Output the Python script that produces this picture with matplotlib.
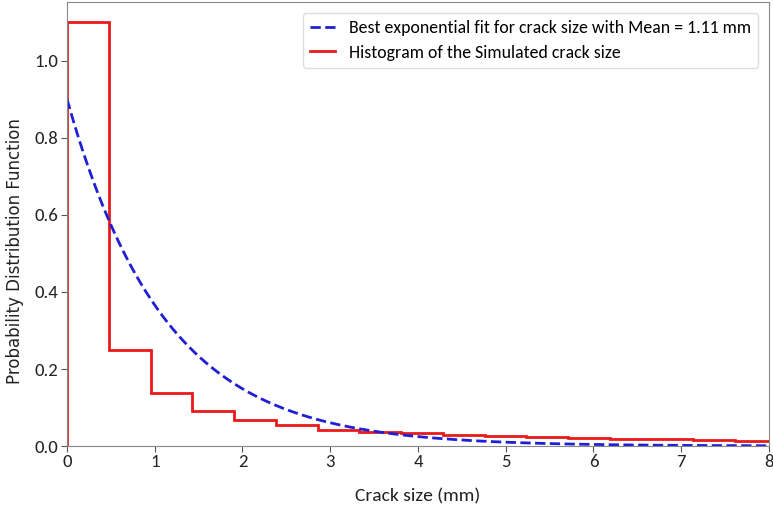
import numpy as np
import matplotlib.pyplot as plt

# histogram of simulated crack size (density)
bin_edges = [0.0, 0.476, 0.952, 1.428, 1.904, 2.38, 2.856, 3.332, 3.808,
             4.284, 4.76, 5.236, 5.712, 6.188, 6.664, 7.14, 7.616, 8.092]
densities = [1.10, 0.25, 0.137, 0.090, 0.068, 0.054, 0.042, 0.036, 0.033,
             0.029, 0.026, 0.023, 0.021, 0.019, 0.017, 0.015, 0.013]

fit_mean = 1.11
x_fit = np.linspace(0, 8, 400)
y_fit = np.exp(-x_fit / fit_mean) / fit_mean

narrow = ['Carlito', 'DejaVu Sans']

fig = plt.figure(figsize=(7.73, 5.08), dpi=100)
ax = fig.add_axes([0.0867, 0.122, 0.908, 0.874])

ax.plot(x_fit, y_fit, '--', color='#1f1fd6', lw=2,
        label='Best exponential fit for crack size with Mean = 1.11 mm')
ax.stairs(densities, bin_edges, baseline=0, color='#e81a1a', lw=2,
          label='Histogram of the Simulated crack size')

ax.set_xlim(0, 8)
ax.set_ylim(0, 1.153)
ax.set_yticks([0.0, 0.2, 0.4, 0.6, 0.8, 1.0])
ax.set_yticklabels(['0.0', '0.2', '0.4', '0.6', '0.8', '1.0'])

for lbl in ax.get_xticklabels() + ax.get_yticklabels():
    lbl.set_fontfamily(narrow)
    lbl.set_fontsize(13.5)
    lbl.set_color('#222222')
ax.tick_params(color='#555555', length=4, pad=2)
for s in ax.spines.values():
    s.set_color('#888888')

ax.set_xlabel('Crack size (mm)', fontsize=14, family=narrow, color='#222222')
ax.xaxis.set_label_coords(0.5, -0.095)
ax.set_ylabel('Probability Distribution Function', fontsize=12, color='#222222')
ax.yaxis.set_label_coords(-0.062, 0.44)

leg = ax.legend(loc='upper right', handlelength=1.4, handletextpad=0.8,
                prop={'family': narrow, 'size': 12.8}, labelspacing=0.5,
                borderaxespad=0.6, framealpha=1, edgecolor='#dddddd')

plt.savefig('out.png')
